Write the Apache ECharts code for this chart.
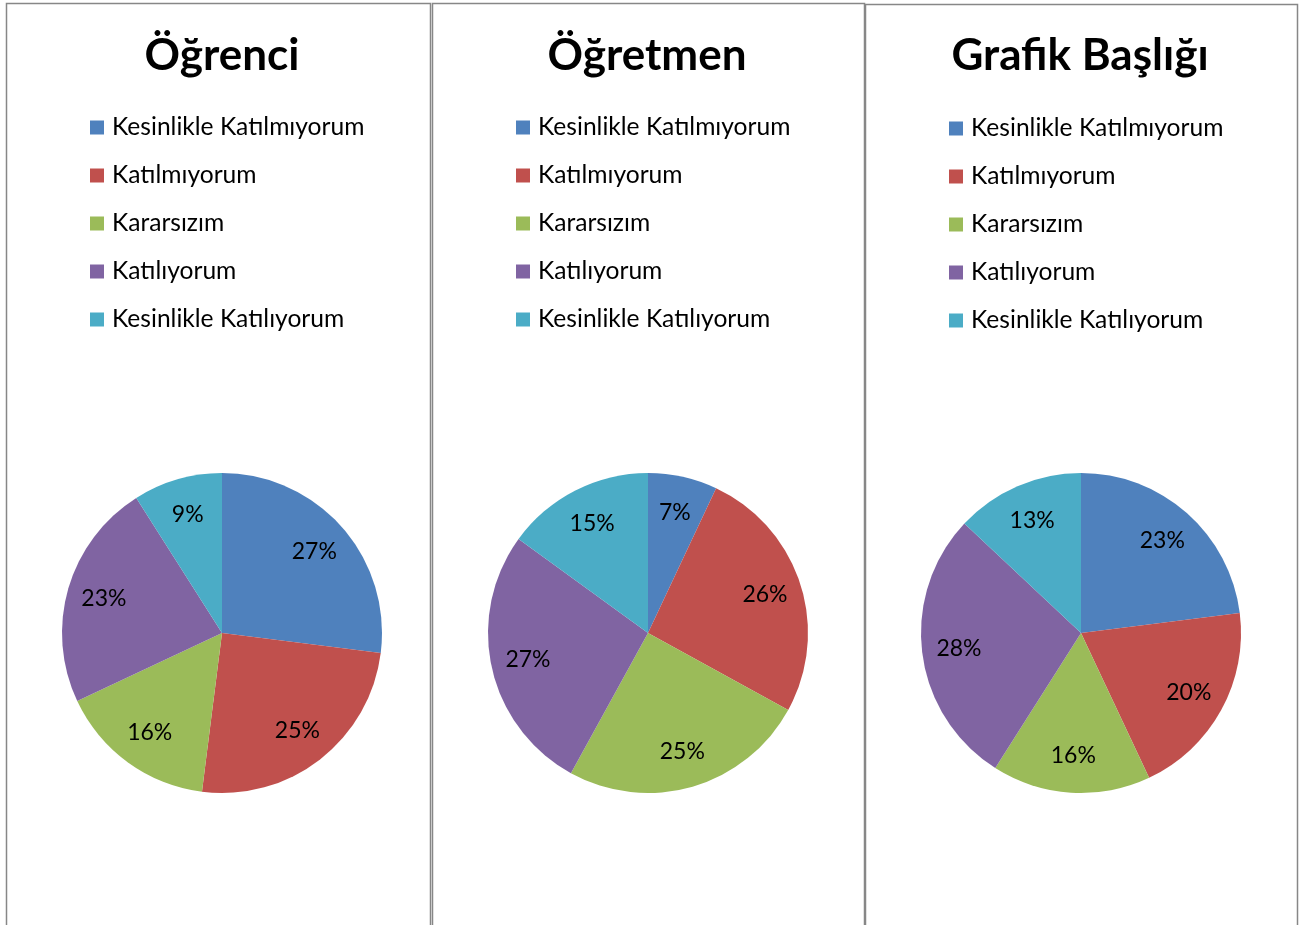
<!DOCTYPE html>
<html>
<head>
<meta charset="utf-8">
<script src="https://cdn.jsdelivr.net/npm/echarts@6/dist/echarts.min.js"></script>
<style>
html,body{margin:0;padding:0;background:#fff;}
#c{width:1305px;height:925px;}
</style>
</head>
<body>
<div id="c"></div>
<script>
const categories = ['Kesinlikle Katılmıyorum', 'Katılmıyorum', 'Kararsızım', 'Katılıyorum', 'Kesinlikle Katılıyorum'];
const titles = ['Öğrenci', 'Öğretmen', 'Grafik Başlığı'];
const ogrenciValues = [27, 25, 16, 23, 9];
const ogretmenValues = [7, 26, 25, 27, 15];
const grafikValues = [23, 20, 16, 28, 13];
const colors = ['#4F81BD', '#C0504D', '#9BBB59', '#8064A2', '#4BACC6'];

const allValues = [ogrenciValues, ogretmenValues, grafikValues];
const centersX = [222, 648, 1081];
const titleX = [222, 647, 1080];
const legendLeft = [90, 516, 949];
const legendTop = [115, 115, 116];
const panels = [[6, 3, 424], [432, 3, 432], [865, 4, 432]];
const FONT = 'Lato';

const chart = echarts.init(document.getElementById('c'));

const series = [];
allValues.forEach((vals, i) => {
  const data = categories.map((n, k) => ({ name: n, value: vals[k], itemStyle: { color: colors[k] } }));
  series.push({
    type: 'pie', radius: [0, 160], center: [centersX[i], 633], startAngle: 90, clockwise: true,
    data: data, label: { show: false }, labelLine: { show: false }, silent: true,
    itemStyle: { borderWidth: 0 }, animation: false
  });
  series.push({
    type: 'pie', radius: [80, 160], center: [centersX[i], 633], startAngle: 90, clockwise: true,
    data: categories.map((n, k) => ({ name: n, value: vals[k] })),
    itemStyle: { color: 'rgba(0,0,0,0)', borderWidth: 0 },
    label: { show: true, position: 'inside', formatter: '{c}%', fontFamily: FONT, fontSize: 23, color: '#000' },
    labelLine: { show: false }, silent: true, animation: false, legendHoverLink: false
  });
});

const option = {
  backgroundColor: '#fff',
  animation: false,
  title: titles.map((t, i) => ({
    text: t, left: titleX[i] - 5, top: 29, textAlign: 'center',
    textStyle: { fontFamily: FONT, fontWeight: 'bold', fontSize: 44, color: '#000' }
  })),
  legend: titles.map((t, i) => ({
    data: categories, orient: 'vertical', left: legendLeft[i], top: legendTop[i], padding: 0,
    icon: 'rect', itemWidth: 14, itemHeight: 14, itemGap: 23, selectedMode: false,
    textStyle: { fontFamily: FONT, fontSize: 24.6, color: '#000', lineHeight: 24, padding: [0, 0, 0, 3] }
  })),
  graphic: panels.map(p => ({
    type: 'rect', silent: true,
    shape: { x: p[0] + 0.5, y: p[1] + 0.5, width: p[2], height: 1000 },
    style: { fill: 'none', stroke: '#878787', lineWidth: 1.5 }
  })),
  series: series
};
chart.setOption(option);
</script>
</body>
</html>
